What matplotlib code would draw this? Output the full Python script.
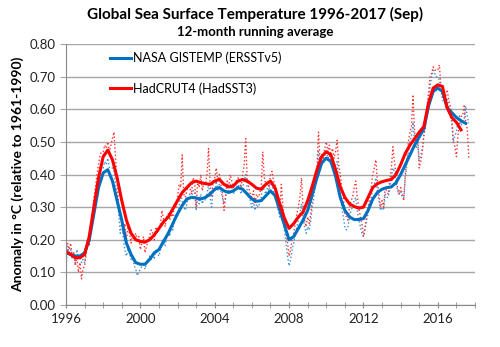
import numpy as np
from matplotlib import pyplot as plt

plt.rcParams['font.family'] = ['Lato', 'DejaVu Sans']

# monthly values Jan 1996 .. Sep 2017 (dotted lines)
had_monthly = [
    0.18, 0.19, 0.17, 0.19, 0.15, 0.16, 0.12, 0.15, 0.10, 0.13, 0.08, 0.11,  # 1996
    0.12, 0.16, 0.20, 0.18, 0.24, 0.28, 0.33, 0.36, 0.40, 0.43, 0.46, 0.47,  # 1997
    0.47, 0.49, 0.48, 0.50, 0.47, 0.49, 0.51, 0.53, 0.45, 0.38, 0.30, 0.27,  # 1998
    0.27, 0.22, 0.25, 0.20, 0.24, 0.22, 0.19, 0.22, 0.20, 0.22, 0.20, 0.21,  # 1999
    0.17, 0.19, 0.21, 0.16, 0.18, 0.20, 0.21, 0.23, 0.22, 0.20, 0.24, 0.22,  # 2000
    0.23, 0.25, 0.29, 0.26, 0.24, 0.27, 0.28, 0.26, 0.28, 0.27, 0.31, 0.30,  # 2001
    0.33, 0.37, 0.36, 0.46, 0.34, 0.33, 0.35, 0.37, 0.36, 0.34, 0.39, 0.38,  # 2002
    0.30, 0.38, 0.36, 0.40, 0.35, 0.38, 0.37, 0.40, 0.48, 0.37, 0.33, 0.38,  # 2003
    0.39, 0.42, 0.38, 0.40, 0.37, 0.34, 0.29, 0.33, 0.38, 0.36, 0.40, 0.38,  # 2004
    0.36, 0.37, 0.38, 0.39, 0.38, 0.36, 0.40, 0.43, 0.51, 0.38, 0.36, 0.34,  # 2005
    0.33, 0.35, 0.31, 0.34, 0.33, 0.34, 0.36, 0.47, 0.39, 0.37, 0.38, 0.36,  # 2006
    0.40, 0.41, 0.38, 0.37, 0.35, 0.31, 0.29, 0.37, 0.30, 0.26, 0.22, 0.19,  # 2007
    0.15, 0.17, 0.20, 0.22, 0.25, 0.28, 0.30, 0.33, 0.39, 0.30, 0.26, 0.24,  # 2008
    0.27, 0.25, 0.28, 0.33, 0.36, 0.38, 0.42, 0.53, 0.44, 0.46, 0.45, 0.48,  # 2009
    0.50, 0.47, 0.49, 0.46, 0.48, 0.45, 0.47, 0.505, 0.43, 0.40, 0.36, 0.33,  # 2010
    0.28, 0.27, 0.26, 0.30, 0.32, 0.33, 0.36, 0.38, 0.33, 0.30, 0.27, 0.25,  # 2011
    0.21, 0.24, 0.27, 0.30, 0.33, 0.36, 0.40, 0.42, 0.445, 0.38, 0.34, 0.30,  # 2012
    0.32, 0.30, 0.36, 0.35, 0.34, 0.38, 0.42, 0.485, 0.44, 0.40, 0.36, 0.34,  # 2013
    0.36, 0.34, 0.32, 0.40, 0.45, 0.50, 0.53, 0.55, 0.645, 0.53, 0.50, 0.52,  # 2014
    0.42, 0.44, 0.47, 0.52, 0.55, 0.60, 0.65, 0.70, 0.71, 0.73, 0.72, 0.72,  # 2015
    0.72, 0.736, 0.67, 0.64, 0.63, 0.64, 0.66, 0.63, 0.61, 0.58, 0.50, 0.485,  # 2016
    0.455, 0.52, 0.56, 0.578, 0.58, 0.61, 0.56, 0.54, 0.45,  # 2017
]

gis_monthly = [
    0.11, 0.18, 0.16, 0.17, 0.14, 0.16, 0.13, 0.17, 0.14, 0.15, 0.13, 0.14,  # 1996
    0.13, 0.16, 0.19, 0.18, 0.22, 0.26, 0.30, 0.33, 0.37, 0.39, 0.42, 0.43,  # 1997
    0.42, 0.44, 0.43, 0.45, 0.42, 0.42, 0.42, 0.41, 0.37, 0.33, 0.28, 0.22,  # 1998
    0.26, 0.20, 0.17, 0.15, 0.17, 0.16, 0.14, 0.15, 0.12, 0.11, 0.09, 0.10,  # 1999
    0.11, 0.12, 0.13, 0.11, 0.13, 0.14, 0.15, 0.14, 0.16, 0.14, 0.17, 0.16,  # 2000
    0.15, 0.17, 0.20, 0.19, 0.18, 0.21, 0.22, 0.21, 0.24, 0.23, 0.27, 0.28,  # 2001
    0.27, 0.30, 0.34, 0.32, 0.30, 0.29, 0.31, 0.33, 0.34, 0.33, 0.35, 0.35,  # 2002
    0.29, 0.33, 0.31, 0.34, 0.31, 0.33, 0.32, 0.34, 0.37, 0.33, 0.30, 0.35,  # 2003
    0.35, 0.38, 0.35, 0.37, 0.35, 0.33, 0.31, 0.33, 0.36, 0.35, 0.37, 0.36,  # 2004
    0.34, 0.35, 0.36, 0.37, 0.36, 0.34, 0.36, 0.38, 0.40, 0.35, 0.33, 0.32,  # 2005
    0.30, 0.32, 0.29, 0.31, 0.30, 0.31, 0.33, 0.37, 0.35, 0.34, 0.36, 0.35,  # 2006
    0.38, 0.37, 0.35, 0.34, 0.32, 0.29, 0.27, 0.31, 0.27, 0.23, 0.19, 0.15,  # 2007
    0.12, 0.14, 0.17, 0.19, 0.22, 0.24, 0.26, 0.28, 0.31, 0.27, 0.24, 0.22,  # 2008
    0.24, 0.23, 0.26, 0.30, 0.33, 0.37, 0.40, 0.47, 0.43, 0.44, 0.44, 0.46,  # 2009
    0.47, 0.45, 0.46, 0.44, 0.45, 0.42, 0.43, 0.44, 0.38, 0.34, 0.30, 0.27,  # 2010
    0.24, 0.23, 0.24, 0.27, 0.29, 0.30, 0.32, 0.33, 0.29, 0.26, 0.24, 0.22,  # 2011
    0.21, 0.23, 0.26, 0.28, 0.31, 0.33, 0.36, 0.37, 0.39, 0.35, 0.32, 0.29,  # 2012
    0.30, 0.29, 0.34, 0.33, 0.33, 0.36, 0.39, 0.42, 0.41, 0.38, 0.35, 0.34,  # 2013
    0.35, 0.33, 0.33, 0.39, 0.43, 0.47, 0.50, 0.52, 0.56, 0.50, 0.48, 0.50,  # 2014
    0.44, 0.46, 0.48, 0.52, 0.55, 0.59, 0.63, 0.67, 0.70, 0.72, 0.71, 0.70,  # 2015
    0.70, 0.69, 0.66, 0.63, 0.62, 0.62, 0.63, 0.61, 0.58, 0.56, 0.50, 0.52,  # 2016
    0.53, 0.56, 0.58, 0.55, 0.56, 0.57, 0.61, 0.58, 0.557,  # 2017
]

# 12-month running average, read every quarter from 1996.0
had_smooth = [
    0.165, 0.155, 0.145, 0.145, 0.155, 0.21, 0.30, 0.39,  # 1996-97
    0.455, 0.475, 0.445, 0.39, 0.32, 0.26, 0.22, 0.20,  # 1998-99
    0.195, 0.193, 0.20, 0.215, 0.235, 0.255, 0.27, 0.295,  # 2000-01
    0.32, 0.345, 0.36, 0.375, 0.38, 0.375, 0.372, 0.37,  # 2002-03
    0.38, 0.385, 0.37, 0.362, 0.365, 0.38, 0.385, 0.38,  # 2004-05
    0.37, 0.358, 0.355, 0.37, 0.38, 0.358, 0.31, 0.266,  # 2006-07
    0.235, 0.25, 0.27, 0.285, 0.32, 0.365, 0.415, 0.455,  # 2008-09
    0.47, 0.46, 0.415, 0.363, 0.33, 0.31, 0.302, 0.297,  # 2010-11
    0.30, 0.33, 0.36, 0.372, 0.378, 0.382, 0.385, 0.40,  # 2012-13
    0.43, 0.465, 0.49, 0.51, 0.53, 0.547, 0.62, 0.665,  # 2014-15
    0.675, 0.67, 0.605, 0.575, 0.56, 0.537,  # 2016-17
]

gis_smooth = [
    0.16, 0.155, 0.15, 0.15, 0.16, 0.20, 0.28, 0.36,  # 1996-97
    0.405, 0.415, 0.38, 0.32, 0.26, 0.19, 0.155, 0.13,  # 1998-99
    0.125, 0.125, 0.14, 0.16, 0.17, 0.195, 0.22, 0.25,  # 2000-01
    0.28, 0.305, 0.325, 0.33, 0.328, 0.325, 0.33, 0.34,  # 2002-03
    0.355, 0.36, 0.35, 0.345, 0.35, 0.36, 0.355, 0.34,  # 2004-05
    0.325, 0.318, 0.32, 0.335, 0.35, 0.335, 0.29, 0.245,  # 2006-07
    0.20, 0.21, 0.235, 0.26, 0.29, 0.34, 0.39, 0.435,  # 2008-09
    0.45, 0.44, 0.395, 0.33, 0.29, 0.27, 0.262, 0.262,  # 2010-11
    0.265, 0.29, 0.325, 0.345, 0.355, 0.36, 0.362, 0.375,  # 2012-13
    0.40, 0.43, 0.46, 0.49, 0.515, 0.54, 0.61, 0.655,  # 2014-15
    0.665, 0.655, 0.605, 0.59, 0.575, 0.565, 0.557,  # 2016-17
]

x_month = 1996 + np.arange(len(had_monthly)) / 12
x_had = 1996 + np.arange(len(had_smooth)) / 4
x_gis = 1996 + np.arange(len(gis_smooth)) / 4

blue = '#0070C0'
red = '#FF0000'

fig = plt.figure(figsize=(5, 3.47), dpi=100)
ax = fig.add_axes([0.132, 0.121, 0.818, 0.752])

# thin dotted monthly
ax.plot(x_month, gis_monthly, color='#3C8FD8', lw=1, ls=':')
ax.plot(x_month, had_monthly, color='#FF3030', lw=1, ls=':')
# thick running averages
ax.plot(x_gis, gis_smooth, color=blue, lw=2.2, label='NASA GISTEMP (ERSSTv5)')
ax.plot(x_had, had_smooth, color=red, lw=2.2, label='HadCRUT4 (HadSST3)')

ax.set_xlim(1996, 2018)
ax.set_ylim(0, 0.8)
ax.set_xticks(range(1996, 2019), minor=True)
ax.set_xticks(range(1996, 2017, 4))
ax.set_xticklabels([str(y) for y in range(1996, 2017, 4)])
ax.set_yticks(np.arange(0, 0.81, 0.1))
ax.set_yticklabels(['{:.2f}'.format(v) for v in np.arange(0, 0.81, 0.1)])
ax.tick_params(axis='both', labelsize=9.5, colors='#222222')
ax.tick_params(axis='x', which='both', direction='inout', length=5, color='#888888')
ax.tick_params(axis='y', length=4, direction='out', color='#a6a6a6')

ax.grid(axis='y', color='#a6a6a6', lw=1)
ax.set_axisbelow(True)
for s in ['top', 'right']:
    ax.spines[s].set_visible(False)
ax.spines['left'].set_color('#888888')
ax.spines['bottom'].set_color('#888888')

ax.set_ylabel('Anomaly in °C (relative to 1961-1990)', fontsize=10, fontweight='bold')
fig.text(0.51, 0.945, 'Global Sea Surface Temperature 1996-2017 (Sep)', ha='center',
         fontsize=11, fontweight='bold')
fig.text(0.51, 0.895, '12-month running average', ha='center', fontsize=9.5, fontweight='bold')

ax.legend(loc='upper left', bbox_to_anchor=(0.08, 1.015), frameon=False, fontsize=9,
          handlelength=1.7, handletextpad=0.15, labelspacing=1.45)

fig.savefig('out.png', dpi=100)
